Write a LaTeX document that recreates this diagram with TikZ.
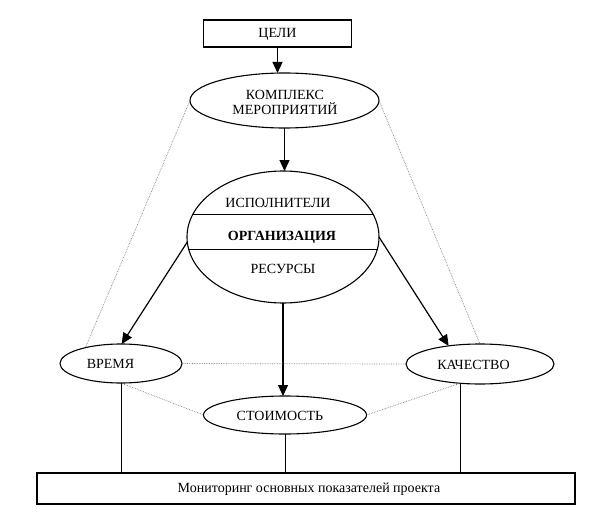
\documentclass[tikz,border=0pt]{standalone}
\usepackage{fontspec}
\setmainfont{Liberation Serif}
\usetikzlibrary{shapes.geometric,arrows.meta,calc}
\begin{document}
\begin{tikzpicture}[x=1pt,y=-1pt,
  ell/.style={draw,ellipse,inner sep=0pt,outer sep=0pt,line width=1.1pt},
  boxx/.style={draw,rectangle,inner sep=0pt,outer sep=0pt,line width=1.1pt},
  txt/.style={inner sep=0pt,font=\fontsize{14}{16}\selectfont,align=center},
  arr/.style={line width=1.2pt,-{Triangle[length=11pt,width=10pt]}},
  dot/.style={densely dotted,line width=0.7pt,gray},
  lin/.style={line width=1pt}]
\useasboundingbox (0,0) rectangle (611,519);
% nodes
\node[boxx,minimum width=148pt,minimum height=27pt] (cel) at (277.5,33.5) {};
\node[txt] (celt) at (277.5,34.5) {ЦЕЛИ};
\node[ell,minimum width=189pt,minimum height=55pt] (kp) at (284.5,100.5) {};
\node[txt] (kpt) at (285,102.5) {КОМПЛЕКС\\[-1pt]МЕРОПРИЯТИЙ};
\node[ell,minimum width=192pt,minimum height=132pt] (org) at (283,237) {};
\node[txt] (ist) at (278,203) {ИСПОЛНИТЕЛИ};
\node[txt,font=\fontsize{14}{16}\selectfont\bfseries] (ort) at (282,237) {ОРГАНИЗАЦИЯ};
\node[txt] (ret) at (283,269) {РЕСУРСЫ};
\node[ell,minimum width=122pt,minimum height=39pt] (vr) at (121,363.5) {};
\node[txt] (vrt) at (110.5,364) {ВРЕМЯ};
\node[ell,minimum width=148pt,minimum height=40pt] (ka) at (480,364) {};
\node[txt] (kat) at (473.5,364.5) {КАЧЕСТВО};
\node[ell,minimum width=163pt,minimum height=38pt] (st) at (285,415) {};
\node[txt] (stt) at (280,416) {СТОИМОСТЬ};
\node[boxx,minimum width=538pt,minimum height=31pt] (mon) at (306,488.5) {};
\node[txt,font=\fontsize{14}{16}\selectfont] (mont) at (309,489.5) {Мониторинг основных показателей проекта};
% organisation lines
\draw[lin] ($(org.center)+(-90,-23)$) -- ($(org.center)+(90,-23)$);
\draw[lin] ($(org.center)+(-94.4,12)$) -- ($(org.center)+(94.4,12)$);
% arrows
\draw[arr] (cel.south) -- (cel.south |- kp.north);
\draw[arr] (kp.south) -- (kp.south |- org.north);
\draw[arr] (org.south) -- (org.south |- st.north);
\draw[arr] (org.183) -- (vr.88);
\draw[arr] (org.east) -- (ka.150);
% dotted
\draw[dot] (kp.west) -- (vr.156);
\draw[dot] (kp.east) -- (ka.north);
\draw[dot] (vr.east) -- (ka.west);
\draw[dot] (vr.south) -- (st.west);
\draw[dot] (ka.224) -- (st.east);
% vertical lines to monitoring
\draw[lin] (vr.south) -- (vr.south |- mon.north);
\draw[lin] (st.south) -- (st.south |- mon.north);
\draw[lin] (ka.224) -- (ka.224 |- mon.north);
\end{tikzpicture}
\end{document}
